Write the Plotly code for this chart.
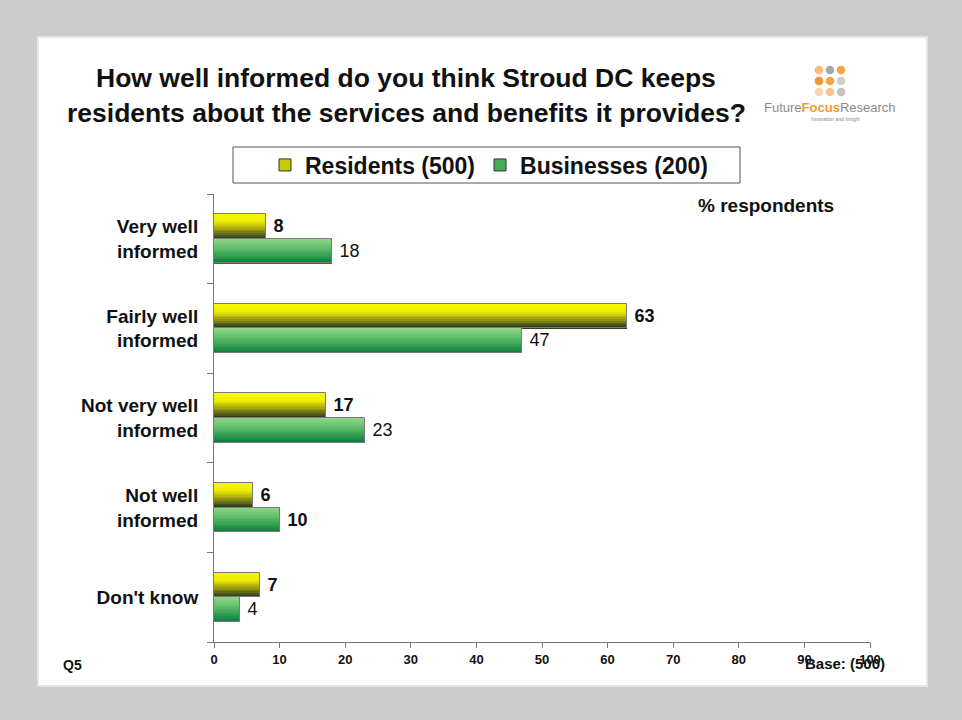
import plotly.graph_objects as go

# Survey results (% respondents)
categories = ["Very well<br>informed", "Fairly well<br>informed", "Not very well<br>informed",
              "Not well<br>informed", "Don't know"]
residents = [8, 63, 17, 6, 7]
businesses = [18, 47, 23, 10, 4]
series_names = ["Residents (500)", "Businesses (200)"]
x_ticks = list(range(0, 101, 10))

W, H = 962, 720
L, R, T, B = 214, 870, 194, 642   # plot area in pixels


def px(x):
    return (x - L) / (R - L)


def py(y):
    return (B - y) / (B - T)


def lerp(c1, c2, t):
    return "rgb(%d,%d,%d)" % tuple(round(a + (b - a) * t) for a, b in zip(c1, c2))


def ramp(stops, t):
    for (t0, c0), (t1, c1) in zip(stops, stops[1:]):
        if t <= t1:
            return lerp(c0, c1, (t - t0) / (t1 - t0) if t1 > t0 else 0)
    return lerp(stops[-1][1], stops[-1][1], 0)


res_stops = [(0.0, (250, 250, 0)), (0.35, (235, 235, 5)), (0.7, (140, 140, 20)), (1.0, (35, 55, 30))]
bus_stops = [(0.0, (150, 215, 140)), (0.4, (95, 190, 105)), (1.0, (10, 125, 60))]

bw = 0.275     # bar thickness in category units
N = 14         # gradient slices per bar

fig = go.Figure()

for s, (vals, stops, off0) in enumerate([(residents, res_stops, -bw), (businesses, bus_stops, 0.0)]):
    for k in range(N):
        t = (k + 0.5) / N
        fig.add_trace(go.Bar(
            x=vals, y=categories, orientation="h",
            width=bw / N + 0.002, offset=off0 + k * bw / N,
            marker=dict(color=ramp(stops, t), line=dict(width=0)),
            name=series_names[s], legendgroup=series_names[s],
            showlegend=False, hoverinfo="skip",
        ))
    # outline and value labels
    fig.add_trace(go.Bar(
        x=vals, y=categories, orientation="h",
        width=bw, offset=off0,
        marker=dict(color="rgba(0,0,0,0)", line=dict(color="#7a7a7a", width=1)),
        texttemplate=" %{x}",
        textposition="outside", cliponaxis=False,
        textfont=dict(family="Liberation Sans, Arial", size=18, color="#111",
                      weight="bold" if s == 0 else "normal"),
        name=series_names[s], legendgroup=series_names[s], showlegend=False,
    ))

# legend entries
for name, col in [(series_names[0], "rgb(200,200,10)"), (series_names[1], "rgb(70,170,90)")]:
    fig.add_trace(go.Bar(
        x=[None], y=[categories[0]], orientation="h",
        marker=dict(color=col, line=dict(color="#333", width=1)),
        name=f"<b>{name}</b>", legendgroup=name, showlegend=True,
    ))

shapes = [
    # white card
    dict(type="rect", xref="paper", yref="paper", x0=px(38), x1=px(927), y0=py(686), y1=py(37),
         fillcolor="white", line=dict(color="#e4e4e4", width=2), layer="below"),
    # legend frame
    dict(type="rect", xref="paper", yref="paper", x0=px(233), x1=px(740), y0=py(183), y1=py(147),
         fillcolor="rgba(0,0,0,0)", line=dict(color="#555", width=1)),
]

# logo dots
dot_cols = [["#f9bb75", "#a9a9a9", "#f6a445"],
            ["#f39631", "#f6a445", "#cdcdcd"],
            ["#fbd3ae", "#f9c28f", "#c3c3c3"]]
for r, row in enumerate(dot_cols):
    for c, col in enumerate(row):
        cx, cy, rad = 819 + 11 * c, 70 + 11 * r, 4.3
        shapes.append(dict(type="circle", xref="paper", yref="paper",
                           x0=px(cx - rad), x1=px(cx + rad), y0=py(cy + rad), y1=py(cy - rad),
                           fillcolor=col, line=dict(width=0)))

annotations = [
    dict(text="<b>How well informed do you think Stroud DC keeps</b>", x=px(406), y=py(78),
         font=dict(size=26.5)),
    dict(text="<b>residents about the services and benefits it provides?</b>", x=px(406), y=py(113),
         font=dict(size=26.5)),
    dict(text="<span style='color:#8a8a8a'>Future</span><b><span style='color:#f39a2c'>Focus</span></b>"
              "<span style='color:#8a8a8a'>Research</span>",
         x=px(830), y=py(108), font=dict(size=13, family="Liberation Sans Narrow, Liberation Sans")),
    dict(text="Innovation and Insight", x=px(836), y=py(119), font=dict(size=5, color="#888")),
    dict(text="<b>% respondents</b>", x=px(766), y=py(205), font=dict(size=19)),
    dict(text="<b>Q5</b>", x=px(72), y=py(665), font=dict(size=14)),
    dict(text="<b>Base: (500)</b>", x=px(845), y=py(663), font=dict(size=15)),
]
for a in annotations:
    a.update(xref="paper", yref="paper", showarrow=False, xanchor="center", yanchor="middle")
    a["font"].setdefault("family", "Liberation Sans, Arial")
    a["font"].setdefault("color", "#111")

fig.update_layout(
    width=W, height=H,
    margin=dict(l=L, r=W - R, t=T, b=H - B),
    paper_bgcolor="#cccccc", plot_bgcolor="rgba(0,0,0,0)",
    barmode="overlay", bargap=0,
    font=dict(family="Liberation Sans, Arial", color="#111"),
    showlegend=True,
    legend=dict(orientation="h", x=px(489), y=py(165), xanchor="center", yanchor="middle",
                font=dict(size=23, family="Liberation Sans, Arial"), bgcolor="rgba(0,0,0,0)",
                itemwidth=30, traceorder="normal"),
    shapes=shapes, annotations=annotations,
    xaxis=dict(range=[0, 100], tickvals=x_ticks, ticktext=[f"<b>{v}</b>" for v in x_ticks],
               ticks="outside", ticklen=5, tickcolor="#777", showline=True, linecolor="#777",
               linewidth=1, showgrid=False, zeroline=False,
               tickfont=dict(size=13, family="Liberation Sans Narrow, Liberation Sans")),
    yaxis=dict(categoryorder="array", categoryarray=categories, autorange="reversed",
               ticks="outside", ticklen=6, tickcolor="#777", tickson="boundaries",
               ticktext=[f"<b>{c}</b>" for c in categories], tickvals=categories,
               showline=True, linecolor="#777", linewidth=1, showgrid=False,
               ticklabelstandoff=11, tickfont=dict(size=19)),
)

fig.write_html("out.html")
